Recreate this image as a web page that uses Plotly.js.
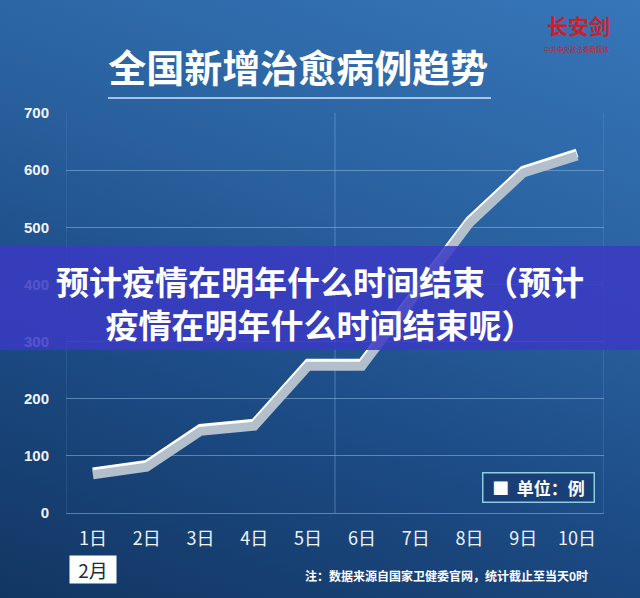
<!DOCTYPE html>
<html>
<head>
<meta charset="utf-8">
<script src="https://cdn.plot.ly/plotly-3.0.1.min.js"></script>
<style>
html,body{margin:0;padding:0;width:640px;height:598px;overflow:hidden;
background:linear-gradient(200deg,#3676b9 0%,#2a62a0 35%,#1c4b85 65%,#123662 100%);}
#chart{width:640px;height:598px;}
</style>
</head>
<body>
<div id="chart"></div>
<script>
const categories = ["1日","2日","3日","4日","5日","6日","7日","8日","9日","10日"];
const cured = [72, 85, 148, 157, 262, 262, 387, 512, 600, 630];
const yTicks = [0, 100, 200, 300, 400, 500, 600, 700];
const chartTitle = "全国新增治愈病例趋势";
const bannerText = "预计疫情在明年什么时间结束（预计<br>疫情在明年什么时间结束呢）";
const unitLabel = "■  单位：例";
const monthLabel = "2月";
const noteText = "注：数据来源自国家卫健委官网，统计截止至当天0时";
const logoText = "长安剑";
const logoSub = "中共中央政法委新媒体";

const CJK = '"Noto Sans CJK SC", "Liberation Sans", sans-serif';

const traces = [
  {x: categories, y: cured, type: 'scatter', mode: 'lines', yaxis: 'y2',
   line: {color: '#b4bfcc', width: 9}, hoverinfo: 'skip', showlegend: false},
  {x: categories, y: cured, type: 'scatter', mode: 'lines',
   line: {color: '#ffffff', width: 9}, showlegend: false}
];

const layout = {
  width: 640, height: 598,
  margin: {l: 66, r: 36, t: 113, b: 85},
  paper_bgcolor: 'rgba(0,0,0,0)',
  plot_bgcolor: 'rgba(0,0,0,0)',
  showlegend: false,
  title: {text: chartTitle, x: 0.466, xanchor: 'center', y: 0.885, yanchor: 'middle',
          font: {family: CJK, size: 38, color: '#ffffff', weight: 'bold'}},
  xaxis: {type: 'category', range: [-0.5, 9.5], showgrid: false, zeroline: false,
          showline: false, ticks: '', ticklabelstandoff: 13,
          tickfont: {family: CJK, size: 18, color: '#eef3f8'}},
  yaxis: {range: [0, 700], tickvals: yTicks, showgrid: true,
          gridcolor: 'rgba(140,185,230,0.55)', gridwidth: 1,
          zeroline: true, zerolinecolor: 'rgba(140,185,230,0.55)', zerolinewidth: 1,
          showline: false, ticks: '', ticklabelstandoff: 16,
          tickfont: {family: '"Liberation Sans", Arial, sans-serif', size: 15, color: '#f2f4f7', weight: 'bold'}},
  yaxis2: {overlaying: 'y', range: [5, 705], visible: false},
  shapes: [
    {type: 'line', xref: 'x', yref: 'paper', x0: 4.5, x1: 4.5, y0: 0, y1: 1,
     line: {color: 'rgba(140,185,230,0.45)', width: 1}, layer: 'below'},
    {type: 'line', xref: 'x', yref: 'paper', x0: -0.5, x1: -0.5, y0: 0, y1: 1,
     line: {color: 'rgba(140,185,230,0.25)', width: 1}, layer: 'below'},
    {type: 'line', xref: 'x', yref: 'paper', x0: 9.5, x1: 9.5, y0: 0, y1: 1,
     line: {color: 'rgba(140,185,230,0.35)', width: 1}, layer: 'below'},
    {type: 'line', xref: 'paper', yref: 'paper', x0: 0.078, x1: 0.79, y0: 1.0375, y1: 1.0375,
     line: {color: '#d3e3f3', width: 1.5}},
    {type: 'rect', xref: 'paper', yref: 'paper', x0: -0.13, x1: 1.08, y0: 0.4075, y1: 0.6675,
     fillcolor: 'rgba(58,58,196,0.86)', line: {width: 0}, layer: 'above'}
  ],
  annotations: [
    {text: bannerText, xref: 'paper', yref: 'paper', x: 0.4721, y: 0.527, showarrow: false,
     xanchor: 'center', yanchor: 'middle', align: 'center',
     font: {family: CJK, size: 33, color: '#ffffff', weight: 'bold'}},
    {text: unitLabel, xref: 'paper', yref: 'paper', x: 0.879, y: 0.065, showarrow: false,
     xanchor: 'center', yanchor: 'middle', width: 108, height: 26,
     bordercolor: '#8ccbe0', borderwidth: 1.5, bgcolor: 'rgba(20,55,105,0.55)',
     font: {family: CJK, size: 17, color: '#ffffff', weight: 'bold'}},
    {text: monthLabel, xref: 'paper', yref: 'paper', x: 0.051, y: -0.141, showarrow: false,
     xanchor: 'center', yanchor: 'middle', width: 44, height: 25, bgcolor: '#ffffff',
     font: {family: CJK, size: 19, color: '#1c2a3c'}},
    {text: noteText, xref: 'paper', yref: 'paper', x: 0.708, y: -0.155, showarrow: false,
     xanchor: 'center', yanchor: 'middle',
     font: {family: CJK, size: 12, color: '#ffffff', weight: 'bold'}},
    {text: logoText, xref: 'paper', yref: 'paper', x: 0.952, y: 1.22, showarrow: false,
     xanchor: 'center', yanchor: 'middle',
     font: {family: CJK, size: 21, color: '#c8202c', weight: 'bold'}},
    {text: logoSub, xref: 'paper', yref: 'paper', x: 0.95, y: 1.161, showarrow: false,
     xanchor: 'center', yanchor: 'middle',
     font: {family: CJK, size: 6.5, color: '#c8202c'}}
  ]
};

Plotly.newPlot('chart', traces, layout, {displayModeBar: false, staticPlot: true});
</script>
</body>
</html>
